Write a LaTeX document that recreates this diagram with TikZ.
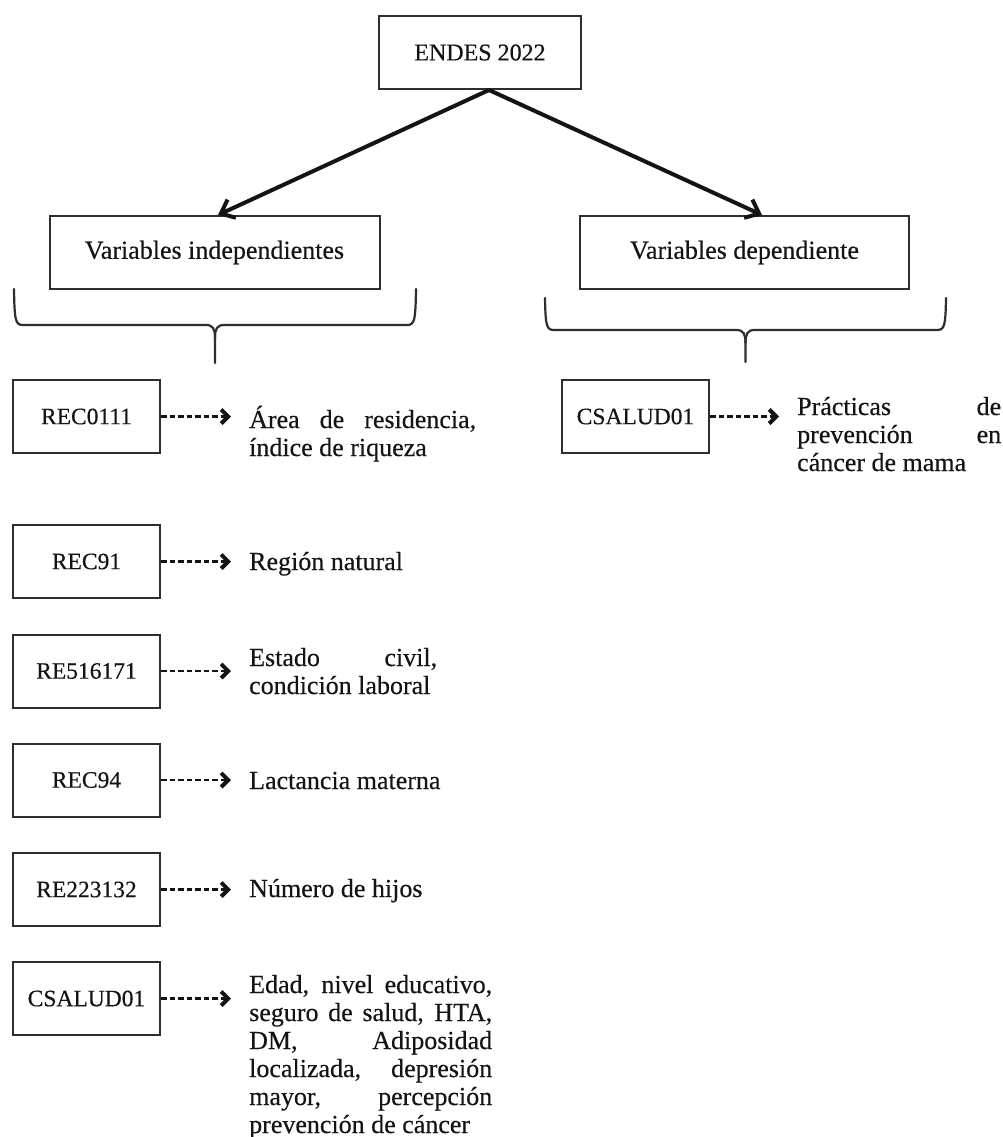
\documentclass[tikz,border=0pt]{standalone}
\usepackage{fontspec}
\setmainfont{Liberation Serif}[FakeBold=0.35]
\usetikzlibrary{arrows.meta,calc}
\definecolor{ink}{HTML}{141414}
\definecolor{edge}{HTML}{2E2E2E}
\newcommand\cbrace[5]{%
  \pgfmathsetmacro\bracemid{(#1+#2)/2}%
  \draw[bracestyle] (#1,#3) .. controls ({#1+0.5},{#4-4}) and ({#1+1.5},#4) .. ({#1+9},#4) -- ({\bracemid-9},#4) .. controls ({\bracemid-2},#4) and (\bracemid,{#4+4}) .. (\bracemid,{#4+13}) -- (\bracemid,#5);
  \draw[bracestyle] (#2,#3) .. controls ({#2-0.5},{#4-4}) and ({#2-1.5},#4) .. ({#2-9},#4) -- ({\bracemid+9},#4) .. controls ({\bracemid+2},#4) and (\bracemid,{#4+4}) .. (\bracemid,{#4+13});
}
\begin{document}
\begin{tikzpicture}[x=1pt,y=-1pt,
  box/.style={draw=edge, line width=2pt, minimum height=73pt, inner sep=0pt, text=ink, font=\fontsize{26}{28}\selectfont},
  codebox/.style={box, minimum width=147pt, font=\fontsize{23.5}{28}\selectfont},
  desc/.style={anchor=base west, inner sep=0pt, text=ink, font=\fontsize{26}{28}\selectfont},
  mainarrow/.style={line width=4pt, draw=ink, -{Straight Barb[length=12pt,width=20pt]}},
  dasharrow/.style={line width=2.2pt, draw=ink, dash pattern=on 5.5pt off 3pt, -{Straight Barb[length=7pt,width=14pt,line width=4pt]}, shorten >=18pt},
  bracestyle/.style={line width=2.2pt, draw=edge, line cap=round}
]
\fill[white] (0,0) rectangle (1003,1137);
\useasboundingbox (0,0) rectangle (1003,1137);

% top level
\node[box, minimum width=202pt, font=\fontsize{24}{28}\selectfont] (endes) at (480,52.5) {ENDES 2022};
\node[box, minimum width=330pt] (vind) at (214.5,252.5) {Variables independientes};
\node[box, minimum width=329pt] (vdep) at (744.5,252.5) {Variables dependiente};

\draw[mainarrow] ([xshift=9pt]endes.south) -- ([xshift=3.5pt]vind.north);
\draw[mainarrow] ([xshift=9pt]endes.south) -- ([xshift=17.5pt]vdep.north);

% braces
\cbrace{14}{416}{289}{325}{363}
\cbrace{545}{946}{298}{330}{362}

% code boxes
\node[codebox] (c1) at (86.5,416.5) {REC0111};
\node[codebox] (cr) at (635.5,416.5) {CSALUD01};
\node[codebox] (c2) at (86.5,561.5) {REC91};
\node[codebox] (c3) at (86.5,671) {RE516171};
\node[codebox] (c4) at (86.5,780) {REC94};
\node[codebox] (c5) at (86.5,889.5) {RE223132};
\node[codebox] (c6) at (86.5,998.5) {CSALUD01};

% descriptions
\node[desc] (d1) at (249,428) {\parbox[t]{227pt}{\makebox[227pt][s]{Área de residencia,}\\índice de riqueza}};
\node[desc] (dr) at (797,415) {\parbox[t]{204pt}{\makebox[204pt][s]{Prácticas de}\\\makebox[204pt][s]{prevención en}\\cáncer de mama}};
\node[desc] (d2) at (249,570) {Región natural};
\node[desc] (d3) at (249,666) {\parbox[t]{188pt}{\makebox[188pt][s]{Estado civil,}\\condición laboral}};
\node[desc] (d4) at (249,789) {Lactancia materna};
\node[desc] (d5) at (249,897) {Número de hijos};
\node[desc] (d6) at (249,993) {\parbox[t]{243pt}{\makebox[243pt][s]{Edad, nivel educativo,}\\\makebox[243pt][s]{seguro de salud, HTA,}\\\makebox[243pt][s]{DM, Adiposidad}\\\makebox[243pt][s]{localizada, depresión}\\\makebox[243pt][s]{mayor, percepción}\\prevención de cáncer}};

% dashed connectors
\foreach \a/\b in {c1/d1,cr/dr,c2/d2,c3/d3,c4/d4,c5/d5,c6/d6}{
  \draw[dasharrow] (\a.east) -- (\a.east -| \b.west);
}
\end{tikzpicture}
\end{document}
